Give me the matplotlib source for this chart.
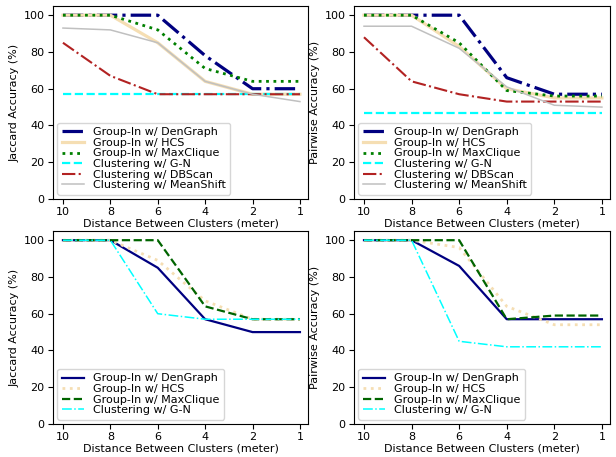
import matplotlib
matplotlib.use("Agg")
import matplotlib.pyplot as plt

distances = ["10", "8", "6", "4", "2", "1"]

# Top row: six methods
top_labels = ["Group-In w/ DenGraph", "Group-In w/ HCS", "Group-In w/ MaxClique",
              "Clustering w/ G-N", "Clustering w/ DBScan", "Clustering w/ MeanShift"]
jac_top_dengraph = [100, 100, 100, 78, 60, 60]
jac_top_hcs = [100, 100, 85, 64, 57, 57]
jac_top_maxclique = [100, 100, 92, 71, 64, 64]
jac_top_gn = [57, 57, 57, 57, 57, 57]
jac_top_dbscan = [85, 67, 57, 57, 57, 57]
jac_top_meanshift = [93, 92, 85, 64, 57, 53]

pw_top_dengraph = [100, 100, 100, 66, 57, 57]
pw_top_hcs = [100, 100, 83, 60, 55, 55]
pw_top_maxclique = [100, 100, 85, 59, 56, 56]
pw_top_gn = [47, 47, 47, 47, 47, 47]
pw_top_dbscan = [88, 64, 57, 53, 53, 53]
pw_top_meanshift = [94, 94, 82, 61, 51, 50]

# Bottom row: four methods
bot_labels = ["Group-In w/ DenGraph", "Group-In w/ HCS", "Group-In w/ MaxClique",
              "Clustering w/ G-N"]
jac_bot_dengraph = [100, 100, 85, 57, 50, 50]
jac_bot_hcs = [100, 100, 89, 67, 57, 57]
jac_bot_maxclique = [100, 100, 100, 64, 57, 57]
jac_bot_gn = [100, 100, 60, 57, 57, 57]

pw_bot_dengraph = [100, 100, 86, 57, 57, 57]
pw_bot_hcs = [100, 100, 96, 64, 54, 54]
pw_bot_maxclique = [100, 100, 100, 57, 59, 59]
pw_bot_gn = [100, 100, 45, 42, 42, 42]

top_styles = [
    dict(color="navy", linestyle="-.", linewidth=2.3),
    dict(color="wheat", linestyle="-", linewidth=2.3),
    dict(color="green", linestyle=":", linewidth=2.0),
    dict(color="cyan", linestyle="--", linewidth=1.6),
    dict(color="firebrick", linestyle="-.", linewidth=1.5),
    dict(color="silver", linestyle="-", linewidth=1.1),
]
bot_styles = [
    dict(color="navy", linestyle="-", linewidth=1.6),
    dict(color="wheat", linestyle=":", linewidth=2.0),
    dict(color="darkgreen", linestyle="--", linewidth=1.6),
    dict(color="cyan", linestyle="-.", linewidth=1.1),
]

fig = plt.figure(figsize=(6.16, 4.57), dpi=100)
W, H = 616, 457
def add_ax(x0, y0, x1, y1):
    return fig.add_axes([x0 / W, 1 - y1 / H, (x1 - x0) / W, (y1 - y0) / H])

ax_tl = add_ax(53, 6, 308, 199)
ax_tr = add_ax(354, 6, 610, 199)
ax_bl = add_ax(53, 231, 308, 424)
ax_br = add_ax(354, 231, 610, 424)

panels = [
    (ax_tl, [jac_top_dengraph, jac_top_hcs, jac_top_maxclique, jac_top_gn, jac_top_dbscan, jac_top_meanshift],
     top_labels, top_styles, "Jaccard Accuracy (%)"),
    (ax_tr, [pw_top_dengraph, pw_top_hcs, pw_top_maxclique, pw_top_gn, pw_top_dbscan, pw_top_meanshift],
     top_labels, top_styles, "Pairwise Accuracy (%)"),
    (ax_bl, [jac_bot_dengraph, jac_bot_hcs, jac_bot_maxclique, jac_bot_gn],
     bot_labels, bot_styles, "Jaccard Accuracy (%)"),
    (ax_br, [pw_bot_dengraph, pw_bot_hcs, pw_bot_maxclique, pw_bot_gn],
     bot_labels, bot_styles, "Pairwise Accuracy (%)"),
]

x = list(range(len(distances)))
for ax, series, labels, styles, ylabel in panels:
    for vals, lab, st in zip(series, labels, styles):
        ax.plot(x, vals, label=lab, **st)
    ax.set_xticks(x)
    ax.set_xticklabels(distances)
    ax.set_xlim(-0.21, 5.17)
    ax.set_ylim(0, 105)
    ax.set_yticks([0, 20, 40, 60, 80, 100])
    ax.set_ylabel(ylabel, fontsize=8, labelpad=3)
    ax.set_xlabel("Distance Between Clusters (meter)", fontsize=8, labelpad=1)
    ax.tick_params(labelsize=8, length=3.5, pad=2.5)
    ax.legend(loc="lower left", fontsize=8, handlelength=2.0, labelspacing=0.05,
              borderaxespad=0.4)

fig.savefig("out.png", dpi=100)
